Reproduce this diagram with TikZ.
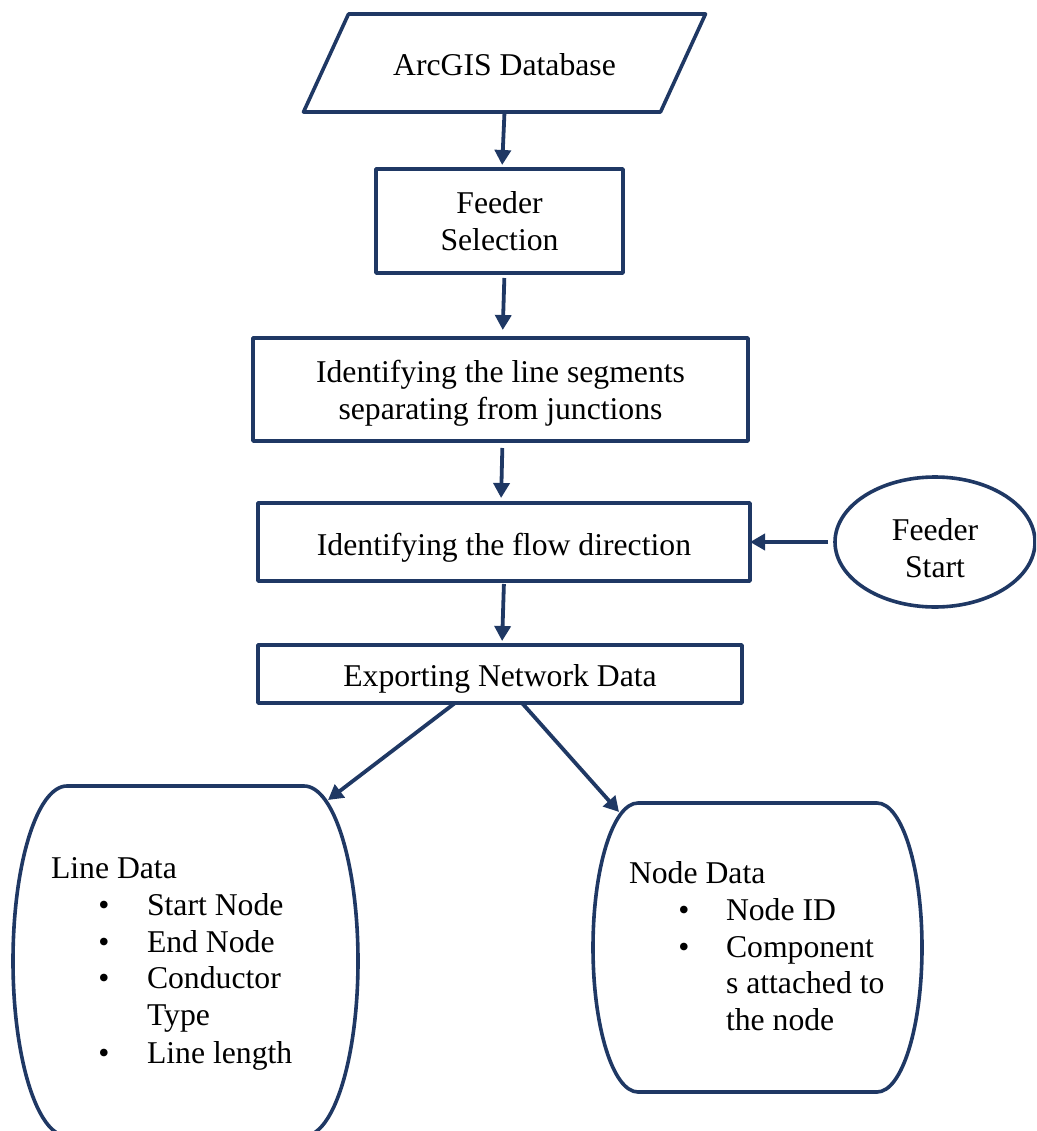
\documentclass[tikz,border=0pt]{standalone}
\usepackage{fontspec}
\setmainfont{Liberation Serif}
\usetikzlibrary{arrows.meta,shapes.geometric}
\definecolor{navy}{RGB}{31,56,100}
\tikzset{
  frame/.style={draw=navy, line width=3.6pt, line join=round},
  txt/.style={font=\fontsize{31.7}{37}\selectfont, text=black, inner sep=0pt, outer sep=0pt},
  procbox/.style={frame, txt, rectangle, align=center},
  plain/.style={txt, rectangle, align=center},
  arr/.style={navy, line width=3.8pt, -{Triangle[length=15pt,width=16pt]}},
  item/.style={txt, anchor=base west},
  dot/.style={txt, anchor=base}
}
\begin{document}
\begin{tikzpicture}[x=1pt,y=-1pt]
\clip (0,0) rectangle (1036,1131);

% input: parallelogram around the database label
\node[plain, text height=25.4pt, text depth=0pt, minimum width=357pt, minimum height=98pt] (db) at (504.5,63) {ArcGIS Database};
\draw[frame] ([xshift=22.5pt]db.north west) -- ([xshift=22.5pt]db.north east)
  -- ([xshift=-22.5pt]db.south east) -- ([xshift=-22.5pt]db.south west) -- cycle;

% process steps
\node[procbox, minimum width=247pt, minimum height=104pt] (fs) at (499.5,221) {Feeder\\Selection};
\node[procbox, text height=67pt, minimum width=495pt, minimum height=103pt] (seg) at (500.5,389.5) {Identifying the line segments\\separating from junctions};
\node[procbox, text height=26pt, text depth=0pt, minimum width=492pt, minimum height=78pt] (flow) at (504,542) {Identifying the flow direction};
\node[procbox, text height=24pt, text depth=0pt, minimum width=484pt, minimum height=58pt] (ex) at (500,674) {Exporting Network Data};

% feeder start terminal
\node[frame, txt, ellipse, align=center, text height=71.5pt, minimum width=200pt, minimum height=130pt] (fst) at (935,542) {Feeder\\Start};

% output data blocks (flat top and bottom, elliptical sides)
\node[plain, minimum width=345pt, minimum height=350pt] (line) at (185.5,961) {};
\draw[frame] ([xshift=54pt]line.north west) -- ([xshift=-54pt]line.north east)
  arc[start angle=90, end angle=-90, x radius=54pt, y radius=175pt]
  -- ([xshift=54pt]line.south west)
  arc[start angle=270, end angle=90, x radius=54pt, y radius=175pt] -- cycle;

\node[plain, minimum width=329pt, minimum height=289pt] (nd) at (757.5,947.5) {};
\draw[frame] ([xshift=45pt]nd.north west) -- ([xshift=-45pt]nd.north east)
  arc[start angle=90, end angle=-90, x radius=45pt, y radius=144.5pt]
  -- ([xshift=45pt]nd.south west)
  arc[start angle=270, end angle=90, x radius=45pt, y radius=144.5pt] -- cycle;

% line data contents
\node[item] (lh) at (51,878) {Line Data};
\node[dot] (lb1) at (104,915) {•};
\node[item] (l1) at (147,915) {Start Node};
\node[dot] (lb2) at (104,952) {•};
\node[item] (l2) at (147,952) {End Node};
\node[dot] (lb3) at (104,988) {•};
\node[item] (l3) at (147,988) {Conductor};
\node[item] (l3b) at (147,1025) {Type};
\node[dot] (lb4) at (104,1063) {•};
\node[item] (l4) at (147,1063) {Line length};

% node data contents
\node[item] (nh) at (629,883) {Node Data};
\node[dot] (nb1) at (684,920) {•};
\node[item] (n1) at (726,920) {Node ID};
\node[dot] (nb2) at (684,957) {•};
\node[item] (n2) at (726,957) {Component};
\node[item] (n2b) at (726,993) {s attached to};
\node[item] (n2c) at (726,1030) {the node};

% connector end points on the curved block outlines
\coordinate (lineTip) at (328,800);
\coordinate (nodeTip) at (619,812);

% connectors
\draw[arr, shorten >=4pt] (db.south) -- ([xshift=2.5pt]fs.north);
\draw[arr, shorten <=5pt, shorten >=8pt] ([xshift=5pt]fs.south) -- ([xshift=2pt]seg.north);
\draw[arr, shorten <=7pt, shorten >=5pt] ([xshift=2pt]seg.south) -- ([xshift=-3pt]flow.north);
\draw[arr, shorten <=3pt, shorten >=4pt] (flow.south) -- ([xshift=2pt]ex.north);
\draw[arr, shorten <=7pt, shorten >=0pt] (fst.west) -- (flow.east);
\draw[arr] ([xshift=-45pt]ex.south) -- (lineTip);
\draw[arr] ([xshift=22pt]ex.south) -- (nodeTip);
\end{tikzpicture}
\end{document}
